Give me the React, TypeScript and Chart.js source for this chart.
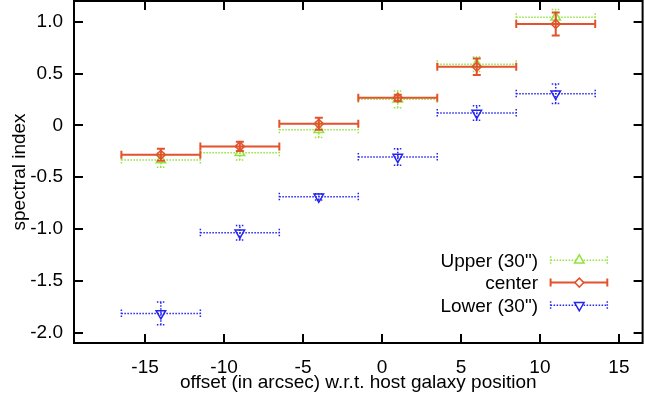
import React, { useEffect, useRef } from 'react';
import { Chart, registerables } from 'chart.js';
import { drawPoint } from 'chart.js/helpers';

Chart.register(...registerables);

// ---- data ----
const xCenters = [-14, -9, -4, 1, 6, 11];
const xHalfWidths = [2.5, 2.5, 2.5, 2.5, 2.5, 2.5];
const upperValues = [-0.335, -0.264, -0.042, 0.251, 0.589, 1.042];
const upperErrors = [0.07, 0.07, 0.075, 0.08, 0.07, 0.075];
const centerValues = [-0.284, -0.203, 0.015, 0.266, 0.566, 0.978];
const centerErrors = [0.058, 0.045, 0.058, 0.03, 0.08, 0.11];
const lowerValues = [-1.815, -1.037, -0.689, -0.306, 0.119, 0.305];
const lowerErrors = [0.11, 0.07, 0.03, 0.08, 0.07, 0.095];
const xTickValues = [-15, -10, -5, 0, 5, 10, 15];
const yTickValues = [-2, -1.5, -1, -0.5, 0, 0.5, 1];
const seriesLabels = ['Upper (30")', 'center', 'Lower (30")'];
const xTitle = 'offset (in arcsec) w.r.t. host galaxy position';
const yTitle = 'spectral index';

const GREEN = '#93e33c';
const RED = '#e2522c';
const BLUE = '#2424f2';
const FONT = { family: 'Liberation Sans, Arial, Helvetica, sans-serif', size: 19 };

function makePoints(values: number[], errors: number[]) {
  return xCenters.map((x, i) => ({ x, y: values[i], xErr: xHalfWidths[i], yErr: errors[i] }));
}

const styleInfo: any[] = [
  { color: GREEN, dash: [1.5, 1.5], width: 1.5, pointStyle: 'triangle', rotation: 0, radius: 5.5 },
  { color: RED, dash: [], width: 2, pointStyle: 'rectRot', rotation: 0, radius: 4.5 },
  { color: BLUE, dash: [1.5, 1.5], width: 1.5, pointStyle: 'triangle', rotation: 180, radius: 5.5 },
];

function drawErrorBars(ctx: CanvasRenderingContext2D, xs: any, ys: any, p: any, st: any) {
  const cap = 4;
  ctx.save();
  ctx.strokeStyle = st.color;
  ctx.lineWidth = st.width;
  ctx.setLineDash(st.dash);
  const px = xs.getPixelForValue(p.x);
  const py = ys.getPixelForValue(p.y);
  const x0 = xs.getPixelForValue(p.x - p.xErr);
  const x1 = xs.getPixelForValue(p.x + p.xErr);
  const y0 = ys.getPixelForValue(p.y - p.yErr);
  const y1 = ys.getPixelForValue(p.y + p.yErr);
  ctx.beginPath();
  ctx.moveTo(x0, py); ctx.lineTo(x1, py);
  ctx.moveTo(x0, py - cap); ctx.lineTo(x0, py + cap);
  ctx.moveTo(x1, py - cap); ctx.lineTo(x1, py + cap);
  ctx.moveTo(px, y0); ctx.lineTo(px, y1);
  ctx.moveTo(px - cap, y0); ctx.lineTo(px + cap, y0);
  ctx.moveTo(px - cap, y1); ctx.lineTo(px + cap, y1);
  ctx.stroke();
  ctx.restore();
}

const errorBarPlugin = {
  id: 'errorBars',
  beforeDatasetDraw(chart: any, args: any) {
    const ds = chart.data.datasets[args.index];
    const st = styleInfo[args.index];
    const ctx = chart.ctx;
    const xs = chart.scales.x;
    const ys = chart.scales.y;
    ds.data.forEach((p: any) => drawErrorBars(ctx, xs, ys, p, st));
  },
};

const framePlugin = {
  id: 'frame',
  afterDraw(chart: any) {
    const { ctx, chartArea: a } = chart;
    const xs = chart.scales.x;
    const ys = chart.scales.y;
    const tick = 9;
    ctx.save();
    ctx.strokeStyle = '#000';
    ctx.lineWidth = 2;
    ctx.beginPath();
    xTickValues.forEach((v) => {
      const x = Math.round(xs.getPixelForValue(v));
      ctx.moveTo(x, a.bottom); ctx.lineTo(x, a.bottom - tick);
      ctx.moveTo(x, a.top); ctx.lineTo(x, a.top + tick);
    });
    yTickValues.forEach((v) => {
      const y = Math.round(ys.getPixelForValue(v));
      ctx.moveTo(a.left, y); ctx.lineTo(a.left + tick, y);
      ctx.moveTo(a.right, y); ctx.lineTo(a.right - tick, y);
    });
    ctx.stroke();
    ctx.strokeRect(a.left, a.top, a.right - a.left, a.bottom - a.top);

    // legend
    const rows = [a.bottom - 82.7, a.bottom - 60.4, a.bottom - 37.7];
    ctx.font = `${FONT.size}px ${FONT.family}`;
    ctx.textAlign = 'right';
    ctx.textBaseline = 'middle';
    seriesLabels.forEach((label, i) => {
      const y = rows[i];
      const st = styleInfo[i];
      ctx.fillStyle = '#000';
      ctx.fillText(label, a.right - 104.6, y + 1);
      const lx0 = a.right - 92;
      const lx1 = a.right - 35.3;
      const mx = a.right - 63.3;
      ctx.save();
      ctx.strokeStyle = st.color;
      ctx.lineWidth = st.width;
      ctx.setLineDash(st.dash);
      ctx.beginPath();
      ctx.moveTo(lx0, y); ctx.lineTo(lx1, y);
      ctx.moveTo(lx0, y - 4); ctx.lineTo(lx0, y + 4);
      ctx.moveTo(lx1, y - 4); ctx.lineTo(lx1, y + 4);
      ctx.stroke();
      ctx.setLineDash([]);
      ctx.fillStyle = '#fff';
      ctx.lineWidth = 1.5;
      drawPoint(ctx, { pointStyle: st.pointStyle, rotation: st.rotation, radius: st.radius, borderWidth: 1.5 }, mx, y);
      ctx.restore();
    });
    ctx.restore();
  },
};

export default function App() {
  const ref = useRef<HTMLCanvasElement>(null);
  useEffect(() => {
    document.body.style.margin = '0';
    const canvas = ref.current!;
    const seriesData = [
      makePoints(upperValues, upperErrors),
      makePoints(centerValues, centerErrors),
      makePoints(lowerValues, lowerErrors),
    ];
    const chart = new Chart(canvas, {
      type: 'scatter',
      data: {
        datasets: seriesData.map((d, i) => ({
          label: seriesLabels[i],
          data: d,
          order: 3 - i,
          borderColor: styleInfo[i].color,
          backgroundColor: 'rgba(255,255,255,0)',
          pointStyle: styleInfo[i].pointStyle,
          rotation: styleInfo[i].rotation,
          pointRadius: styleInfo[i].radius,
          pointBorderWidth: 1.5,
          showLine: false,
        })),
      },
      options: {
        responsive: false,
        animation: false,
        layout: { autoPadding: false, padding: { left: 0, right: 2.4, top: 1, bottom: 0 } },
        plugins: { legend: { display: false }, tooltip: { enabled: false } },
        scales: {
          x: {
            type: 'linear',
            min: -19.5,
            max: 16.5,
            grid: { display: false, drawTicks: false },
            border: { display: false },
            afterBuildTicks: (s: any) => { s.ticks = xTickValues.map((v) => ({ value: v })); },
            afterFit: (s: any) => { s.height = 52; s.paddingLeft = 0; s.paddingRight = 0; s.paddingTop = 0; s.paddingBottom = 0; },
            ticks: { color: '#000', font: FONT, padding: 13, autoSkip: false, maxRotation: 0, callback: (v: any) => String(v) },
            title: { display: true, text: xTitle, color: '#000', font: FONT, padding: { top: 0, bottom: 1 } },
          },
          y: {
            type: 'linear',
            min: -2.1,
            max: 1.2,
            grid: { display: false, drawTicks: false },
            border: { display: false },
            afterBuildTicks: (s: any) => { s.ticks = yTickValues.map((v) => ({ value: v })); },
            afterFit: (s: any) => { s.width = 74; s.paddingLeft = 0; s.paddingRight = 0; s.paddingTop = 0; s.paddingBottom = 0; },
            ticks: { color: '#000', font: FONT, padding: 11, autoSkip: false, callback: (v: any) => (v === 0 ? '0' : Number(v).toFixed(1)) },
            title: { display: true, text: yTitle, color: '#000', font: FONT, padding: { top: 8, bottom: 0 } },
          },
        },
      },
      plugins: [errorBarPlugin, framePlugin],
    });
    return () => chart.destroy();
  }, []);
  return <canvas ref={ref} width={645} height={395} style={{ display: 'block' }} />;
}
